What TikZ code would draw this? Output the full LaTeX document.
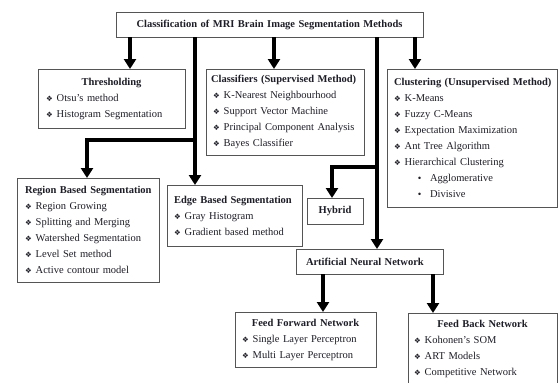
\documentclass[tikz,border=0pt]{standalone}
\usepackage{fontspec}
\setmainfont{Liberation Serif}
\newfontfamily\dejavu{DejaVu Sans}
\usetikzlibrary{arrows.meta}
\definecolor{boxc}{HTML}{555555}
\definecolor{txtc}{HTML}{1E1E28}
\newcommand\dia{{\dejavu\fontsize{7.5}{7.5}\selectfont ❖}\hspace{4pt}}
\newcommand\dotitem{\hspace*{26pt}{\dejavu\fontsize{8.5}{8.5}\selectfont •}\hspace{8pt}}
\newcommand\hd[1]{\mbox{\textbf{#1}}}
\begin{document}
\begin{tikzpicture}[x=1pt,y=-1pt,
  box/.style={draw=boxc, line width=0.9pt, anchor=north west, inner xsep=8pt, inner ysep=0pt,
    outer sep=0pt, align=left, text=txtc, font=\fontsize{10.5}{16}\selectfont},
  conn/.style={line width=4.5pt, draw=black, -{Triangle[width=12pt,length=10pt]}}]
\clip (0,0) rectangle (558,383);
\fill[white] (0,0) rectangle (558,383);
% named coordinates for connector positions
\coordinate (xa) at (130,0);
\coordinate (xb) at (195,0);
\coordinate (xc) at (274,0);
\coordinate (xd) at (377,0);
\coordinate (xe) at (415,0);
\coordinate (xf) at (87,0);
\coordinate (xg) at (332,0);
\coordinate (xh) at (323,0);
\coordinate (xi) at (433,0);
\coordinate (ja) at (195,140);
\coordinate (jb) at (377,167);
% boxes
\node[box, align=center, minimum width=307pt, minimum height=25pt, text width=291pt] (title) at (116,12)
  {\hd{Classification of MRI Brain Image Segmentation Methods}};
\node[box, minimum width=147pt, minimum height=59pt, text width=131pt] (thresh) at (38,69)
  {\centering\hd{Thresholding}\par\raggedright
   \dia Otsu’s method\\ \dia Histogram Segmentation};
\node[box, minimum width=158pt, minimum height=86pt, text width=148pt, inner xsep=5pt] (class) at (206,69)
  {\hd{Classifiers (Supervised Method)}\\
   \hspace*{2pt}\dia K-Nearest Neighbourhood\\ \hspace*{2pt}\dia Support Vector Machine\\
   \hspace*{2pt}\dia Principal Component Analysis\\ \hspace*{2pt}\dia Bayes Classifier};
\node[box, minimum width=170pt, minimum height=138pt, text width=162pt, inner xsep=4pt] (clust) at (387,69)
  {\hspace*{3pt}\hd{Clustering (Unsupervised Method)}\\
   \hspace*{3pt}\dia K-Means\\ \hspace*{3pt}\dia Fuzzy C-Means\\ \hspace*{3pt}\dia Expectation Maximization\\
   \hspace*{3pt}\dia Ant Tree Algorithm\\ \hspace*{3pt}\dia Hierarchical Clustering\\
   \dotitem Agglomerative\\ \dotitem Divisive};
\node[box, minimum width=142pt, minimum height=104pt, text width=134pt, inner xsep=4pt] (region) at (17,178)
  {\hspace*{4pt}\hd{Region Based Segmentation}\\
   \hspace*{4pt}\dia Region Growing\\ \hspace*{4pt}\dia Splitting and Merging\\ \hspace*{4pt}\dia Watershed Segmentation\\
   \hspace*{4pt}\dia Level Set method\\ \hspace*{4pt}\dia Active contour model};
\node[box, minimum width=135pt, minimum height=61pt, text width=125pt, inner xsep=5pt] (edge) at (167,185)
  {\hspace*{2pt}\hd{Edge Based Segmentation}\\
   \hspace*{2pt}\dia Gray Histogram\\ \hspace*{2pt}\dia Gradient based method};
\node[box, align=center, minimum width=56pt, minimum height=26pt, text width=44pt, inner xsep=6pt] (hybrid) at (307,198)
  {\hd{Hybrid}};
\node[box, minimum width=147pt, minimum height=25pt, text width=127pt, inner xsep=10pt] (ann) at (296,249)
  {\hd{Artificial Neural Network}};
\node[box, minimum width=141pt, minimum height=55pt, text width=131pt, inner xsep=5pt] (ff) at (235,312)
  {\centering\hd{Feed Forward Network}\par\raggedright
   \hspace*{2pt}\dia Single Layer Perceptron\\ \hspace*{2pt}\dia Multi Layer Perceptron};
\node[box, minimum width=149pt, minimum height=72pt, text width=137pt, inner xsep=6pt] (fb) at (408,313)
  {\centering\hd{Feed Back Network}\par\raggedright
   \dia Kohonen’s SOM\\ \dia ART Models\\ \dia Competitive Network};
% connectors
\draw[conn] (title.south -| xa) -- (thresh.north -| xa);
\draw[conn] (title.south -| xc) -- (class.north -| xc);
\draw[conn] (title.south -| xe) -- (clust.north -| xe);
\draw[conn] (title.south -| xb) -- (edge.north -| xb);
\draw[conn] (ja) -| (region.north -| xf);
\draw[conn] (title.south -| xd) -- (ann.north -| xd);
\draw[conn] (jb) -| (hybrid.north -| xg);
\draw[conn] (ann.south -| xh) -- (ff.north -| xh);
\draw[conn] (ann.south -| xi) -- (fb.north -| xi);
\end{tikzpicture}
\end{document}
